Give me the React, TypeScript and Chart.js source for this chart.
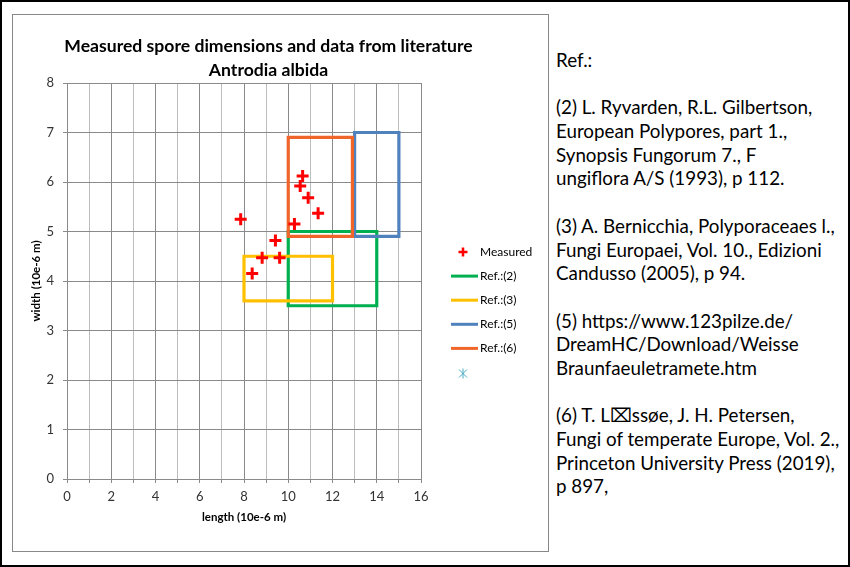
import React, { useEffect, useRef } from 'react';
import { Chart, registerables } from 'chart.js';

Chart.register(...registerables);

// ---- data ----
const measuredLength = [7.85, 8.37, 8.82, 9.42, 9.61, 10.28, 10.65, 10.54, 10.9, 11.35];
const measuredWidth = [5.25, 4.15, 4.47, 4.82, 4.47, 5.15, 6.12, 5.92, 5.68, 5.37];

const refLabels = ['Ref.:(2)', 'Ref.:(3)', 'Ref.:(5)', 'Ref.:(6)'];
const refLengthMin = [10, 8, 13, 10];
const refLengthMax = [14, 12, 15, 12.9];
const refWidthMin = [3.5, 3.6, 4.9, 4.9];
const refWidthMax = [5.0, 4.5, 7.0, 6.9];
const refColors = ['#00B050', '#FFC000', '#4F81BD', '#F0662A'];

const xRange = [0, 16];
const yRange = [0, 8];

const titleLines = ['Measured spore dimensions and data from literature', 'Antrodia albida'];
const xTitle = 'length (10e-6 m)';
const yTitle = 'width (10e-6 m)';

const refText = [
  'Ref.:',
  '',
  '(2) L. Ryvarden, R.L. Gilbertson,',
  'European Polypores, part 1.,',
  'Synopsis Fungorum 7., F',
  'ungiflora A/S (1993), p 112.',
  '',
  '(3) A. Bernicchia, Polyporaceaes l.,',
  'Fungi Europaei, Vol. 10., Edizioni',
  'Candusso (2005), p 94.',
  '',
  '(5) https://www.123pilze.de/',
  'DreamHC/Download/Weisse',
  'Braunfaeuletramete.htm',
  '',
  '(6) T. L\u2327ssøe, J. H. Petersen,',
  'Fungi of temperate Europe, Vol. 2.,',
  'Princeton University Press (2019),',
  'p 897,',
];

const FONT = 'Lato, "Open Sans", sans-serif';

const overlayPlugin = {
  id: 'overlay',
  afterDraw(chart: any) {
    const ctx = chart.ctx;
    ctx.save();
    // title
    ctx.fillStyle = '#000';
    ctx.textAlign = 'center';
    ctx.textBaseline = 'middle';
    ctx.font = `bold 17.6px ${FONT}`;
    ctx.fillText(titleLines[0], 255.5, 31);
    ctx.fillText(titleLines[1], 255.5, 55);

    // legend
    const ds = chart.data.datasets;
    const lx = 450;
    const y0 = 237;
    const step = 24.1;
    ctx.textAlign = 'left';
    ctx.font = `12px ${FONT}`;
    ds.forEach((d: any, i: number) => {
      const y = y0 + i * step + (i === ds.length - 1 ? 1 : 0);
      ctx.strokeStyle = d.borderColor;
      if (d.legendKind === 'cross') {
        ctx.lineWidth = 2.5;
        ctx.beginPath();
        ctx.moveTo(lx - 4.5, y);
        ctx.lineTo(lx + 4.5, y);
        ctx.moveTo(lx, y - 4.5);
        ctx.lineTo(lx, y + 4.5);
        ctx.stroke();
      } else if (d.legendKind === 'line') {
        ctx.lineWidth = 3;
        ctx.beginPath();
        ctx.moveTo(lx - 12, y);
        ctx.lineTo(lx + 15, y);
        ctx.stroke();
      } else if (d.legendKind === 'star') {
        ctx.lineWidth = 1;
        ctx.beginPath();
        ctx.moveTo(lx, y - 5);
        ctx.lineTo(lx, y + 5);
        ctx.moveTo(lx - 4, y - 4);
        ctx.lineTo(lx + 4, y + 4);
        ctx.moveTo(lx + 4, y - 4);
        ctx.lineTo(lx - 4, y + 4);
        ctx.stroke();
      }
      if (d.label) {
        ctx.fillStyle = '#000';
        ctx.fillText(d.label, lx + 17, y);
      }
    });
    ctx.restore();
  },
};

export default function App() {
  const canvasRef = useRef<HTMLCanvasElement | null>(null);

  useEffect(() => {
    if (!canvasRef.current) return;
    const datasets: any[] = [];
    datasets.push({
      label: 'Measured',
      legendKind: 'cross',
      data: measuredLength.map((x, i) => ({ x, y: measuredWidth[i] })),
      pointStyle: 'cross',
      pointRadius: 6,
      pointBorderWidth: 3,
      borderColor: '#FF0000',
      backgroundColor: '#FF0000',
      showLine: false,
      order: 0,
    });
    refLabels.forEach((label, i) => {
      const x0 = refLengthMin[i];
      const x1 = refLengthMax[i];
      const y0 = refWidthMin[i];
      const y1 = refWidthMax[i];
      datasets.push({
        label,
        legendKind: 'line',
        data: [
          { x: x0, y: y0 },
          { x: x1, y: y0 },
          { x: x1, y: y1 },
          { x: x0, y: y1 },
          { x: x0, y: y0 },
        ],
        showLine: true,
        borderColor: refColors[i],
        backgroundColor: refColors[i],
        borderWidth: 3.2,
        pointRadius: 0,
        borderJoinStyle: 'miter',
        borderCapStyle: 'square',
        tension: 0,
        fill: false,
        order: 10 - i,
      });
    });
    datasets.push({
      label: '',
      legendKind: 'star',
      data: [],
      pointStyle: 'star',
      borderColor: '#4BACC6',
      backgroundColor: '#4BACC6',
      showLine: false,
      order: 20,
    });

    const gridDark = '#8A8A8A';
    const gridLight = '#BDBDBD';
    const tickFont = { family: FONT, size: 13 };
    const titleFont = { family: FONT, size: 11.5, weight: 'bold' as const };

    const chart = new Chart(canvasRef.current, {
      type: 'scatter',
      data: { datasets },
      plugins: [overlayPlugin],
      options: {
        animation: false,
        responsive: false,
        events: [],
        layout: { padding: { left: 0, top: 68, right: 127, bottom: 0 } },
        plugins: {
          legend: { display: false },
          title: { display: false },
          tooltip: { enabled: false },
        },
        scales: {
          x: {
            type: 'linear',
            min: xRange[0],
            max: xRange[1],
            afterFit: (s: any) => {
              s.height = 72;
            },
            ticks: {
              stepSize: 1,
              autoSkip: false,
              maxRotation: 0,
              padding: 6,
              color: '#333',
              font: tickFont,
              callback: (v: any) => (Number(v) % 2 === 0 ? String(v) : ''),
            },
            grid: {
              color: (c: any) => (c.tick && c.tick.value % 2 === 0 ? gridDark : gridLight),
              tickColor: gridDark,
              tickLength: 4,
              lineWidth: 1,
            },
            border: { color: gridDark, width: 1 },
            title: {
              display: true,
              text: xTitle,
              color: '#000',
              font: titleFont,
              padding: { top: 0, bottom: 27 },
            },
          },
          y: {
            type: 'linear',
            min: yRange[0],
            max: yRange[1],
            afterFit: (s: any) => {
              s.width = 54;
            },
            ticks: {
              stepSize: 1,
              autoSkip: false,
              padding: 9,
              color: '#333',
              font: tickFont,
            },
            grid: {
              color: gridDark,
              tickColor: gridDark,
              tickLength: 4,
              lineWidth: 1,
            },
            border: { color: gridDark, width: 1 },
            title: {
              display: true,
              text: yTitle,
              color: '#000',
              font: titleFont,
              padding: { top: 16, bottom: 0 },
            },
          },
        },
      } as any,
    });
    return () => chart.destroy();
  }, []);

  return (
    <div
      style={{
        position: 'absolute',
        left: 0,
        top: 0,
        width: 850,
        height: 567,
        border: '2px solid #000',
        boxSizing: 'border-box',
        background: '#fff',
        overflow: 'hidden',
      }}
    >
      <div
        style={{
          position: 'absolute',
          left: 10,
          top: 12,
          width: 537,
          height: 538,
          border: '1px solid #888',
          boxSizing: 'border-box',
          background: '#fff',
        }}
      >
        <canvas ref={canvasRef} width={535} height={536} style={{ display: 'block', width: 535, height: 536 }} />
      </div>
      <div
        style={{
          position: 'absolute',
          left: 554,
          top: 46,
          whiteSpace: 'pre',
          fontFamily: FONT,
          fontSize: 18.8,
          lineHeight: '23.7px',
          color: '#000',
        }}
      >
        {refText.map((line, i) => (
          <div key={i} style={{ height: '23.7px' }}>
            {line}
          </div>
        ))}
      </div>
    </div>
  );
}
